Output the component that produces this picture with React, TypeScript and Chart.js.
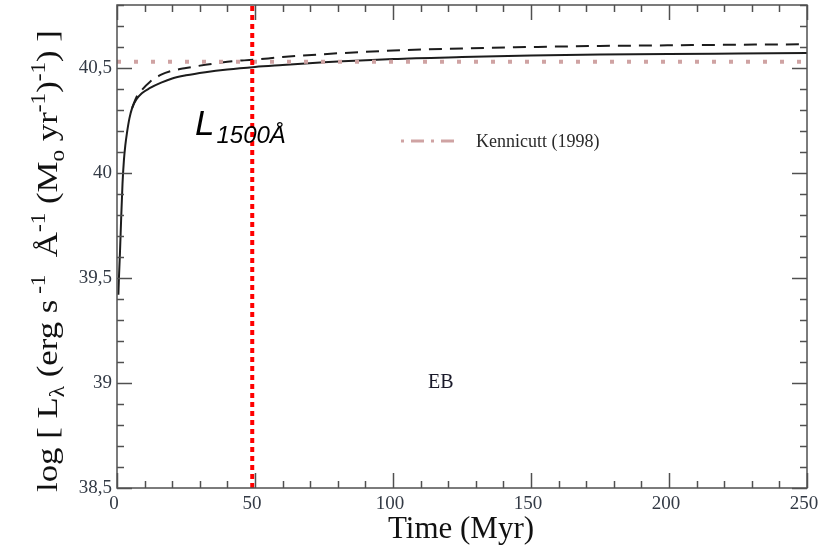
import React, { useEffect, useRef } from 'react';
import { Chart, registerables } from 'chart.js';

Chart.register(...registerables);

// ---- data ----
const solidTime = [0.5, 0.7, 1.1, 1.5, 2.0, 2.5, 3.0, 3.6, 4.5, 5.5, 7, 9, 12, 16, 20, 25, 32, 40, 50, 60, 75, 100, 125, 150, 175, 200, 225, 250];
const solidLum = [39.42, 39.5, 39.63, 39.78, 39.95, 40.06, 40.13, 40.19, 40.26, 40.31, 40.35, 40.38, 40.405, 40.43, 40.45, 40.465, 40.48, 40.493, 40.505, 40.514, 40.527, 40.543, 40.552, 40.559, 40.564, 40.567, 40.569, 40.571];

const dashedTime = [5.5, 7, 9, 12, 16, 20, 25, 32, 40, 50, 60, 75, 100, 125, 150, 175, 200, 225, 250];
const dashedLum = [40.31, 40.36, 40.395, 40.435, 40.468, 40.487, 40.5, 40.515, 40.53, 40.54, 40.552, 40.566, 40.583, 40.593, 40.6, 40.605, 40.608, 40.611, 40.613];

const kennicuttLevel = 40.53;
const markerTime = 49;

const xRange = [0, 250];
const yRange = [38.5, 40.8];
const xMajorStep = 50;
const xMinorStep = 10;
const yMajorStep = 0.5;
const yMinorStep = 0.1;

const SERIF = '"Liberation Serif", "DejaVu Serif", serif';
const SANS = '"Liberation Sans", Arial, sans-serif';

type Seg = { t: string; size: number; dy: number };

function drawRich(ctx: CanvasRenderingContext2D, segs: Seg[], x: number, y: number, family: string, center: boolean) {
  let total = 0;
  for (const s of segs) {
    ctx.font = `${s.size}px ${family}`;
    total += ctx.measureText(s.t).width;
  }
  let cx = center ? x - total / 2 : x;
  for (const s of segs) {
    ctx.font = `${s.size}px ${family}`;
    ctx.fillText(s.t, cx, y + s.dy);
    cx += ctx.measureText(s.t).width;
  }
}

const decorPlugin = {
  id: 'decor',
  afterDraw(chart: any) {
    const { ctx, chartArea: a, scales } = chart;
    const x = scales.x;
    const y = scales.y;
    ctx.save();
    // frame
    ctx.strokeStyle = '#505050';
    ctx.lineWidth = 1.5;
    ctx.setLineDash([]);
    ctx.strokeRect(a.left, a.top, a.right - a.left, a.bottom - a.top);

    const seg = (x1: number, y1: number, x2: number, y2: number) => {
      ctx.beginPath();
      ctx.moveTo(x1, y1);
      ctx.lineTo(x2, y2);
      ctx.stroke();
    };
    // x ticks (bottom & top, inward)
    const nx = Math.round((xRange[1] - xRange[0]) / xMinorStep);
    for (let i = 0; i <= nx; i++) {
      const v = xRange[0] + i * xMinorStep;
      const px = Math.round(x.getPixelForValue(v)) + 0.5;
      const len = i % Math.round(xMajorStep / xMinorStep) === 0 ? 15 : 7;
      seg(px, a.bottom, px, a.bottom - len);
      seg(px, a.top, px, a.top + len);
    }
    // y ticks (left & right, inward)
    const ny = Math.round((yRange[1] - yRange[0]) / yMinorStep);
    for (let i = 0; i <= ny; i++) {
      const v = yRange[0] + i * yMinorStep;
      const py = Math.round(y.getPixelForValue(v)) + 0.5;
      const len = i % Math.round(yMajorStep / yMinorStep) === 0 ? 15 : 7;
      seg(a.left, py, a.left + len, py);
      seg(a.right, py, a.right - len, py);
    }

    // L_1500Å label
    ctx.fillStyle = '#000';
    ctx.textBaseline = 'alphabetic';
    ctx.textAlign = 'left';
    ctx.font = `italic 35px ${SANS}`;
    ctx.fillText('L', 195, 135);
    const lw = ctx.measureText('L').width;
    ctx.font = `italic 24px ${SANS}`;
    ctx.fillText('1500Å', 195 + lw + 2, 143);

    // Kennicutt legend
    ctx.strokeStyle = '#cfa3a3';
    ctx.lineWidth = 3;
    ctx.setLineDash([3, 7, 13, 7]);
    seg(401, 141, 456, 141);
    ctx.setLineDash([]);
    ctx.fillStyle = '#2a2a2a';
    ctx.font = `18px ${SERIF}`;
    ctx.fillText('Kennicutt (1998)', 476, 147);

    // EB
    ctx.fillStyle = '#1a1a2a';
    ctx.font = `20px ${SERIF}`;
    ctx.fillText('EB', 428, 388);

    // x title
    ctx.fillStyle = '#111';
    ctx.textAlign = 'center';
    ctx.font = `31px ${SERIF}`;
    ctx.fillText('Time (Myr)', 461, 538);

    // y title (rotated, rich text)
    ctx.textAlign = 'left';
    ctx.translate(57, 261);
    ctx.rotate(-Math.PI / 2);
    ctx.scale(1.16, 1);
    const N = 30, S = 20;
    const segs: Seg[] = [
      { t: 'log [ L', size: N, dy: 0 },
      { t: 'λ', size: S, dy: 7 },
      { t: ' (erg s', size: N, dy: 0 },
      { t: ' -1', size: S, dy: -12 },
      { t: '  Å', size: N, dy: 0 },
      { t: '-1', size: S, dy: -12 },
      { t: ' (M', size: N, dy: 0 },
      { t: 'o', size: S, dy: 7 },
      { t: ' yr', size: N, dy: 0 },
      { t: '-1', size: S, dy: -12 },
      { t: ')', size: N, dy: 0 },
      { t: '-1', size: S, dy: -12 },
      { t: ') ]', size: N, dy: 0 },
    ];
    drawRich(ctx, segs, 0, 0, SERIF, true);
    ctx.restore();
  },
};

export default function App() {
  const ref = useRef<HTMLCanvasElement | null>(null);
  useEffect(() => {
    if (!ref.current) return;
    const tickColor = '#333a45';
    const chart = new Chart(ref.current, {
      type: 'scatter',
      data: {
        datasets: [
          {
            label: 'marker',
            data: [{ x: markerTime, y: yRange[0] }, { x: markerTime, y: yRange[1] }],
            showLine: true,
            borderColor: '#ff0000',
            borderWidth: 4,
            borderDash: [5, 4],
            pointRadius: 0,
          },
          {
            label: 'Kennicutt (1998)',
            data: [{ x: xRange[0], y: kennicuttLevel }, { x: xRange[1], y: kennicuttLevel }],
            showLine: true,
            borderColor: '#cfa3a3',
            borderWidth: 4,
            borderDash: [4, 13],
            pointRadius: 0,
          },
          {
            label: 'solid',
            data: solidTime.map((t, i) => ({ x: t, y: solidLum[i] })),
            showLine: true,
            borderColor: '#1c1c1c',
            borderWidth: 2,
            pointRadius: 0,
            cubicInterpolationMode: 'monotone',
          },
          {
            label: 'dashed',
            data: dashedTime.map((t, i) => ({ x: t, y: dashedLum[i] })),
            showLine: true,
            borderColor: '#1c1c1c',
            borderWidth: 2,
            borderDash: [13, 8],
            pointRadius: 0,
            cubicInterpolationMode: 'monotone',
          },
        ],
      },
      options: {
        animation: false,
        responsive: false,
        layout: { padding: { top: 5, right: 28, left: 0, bottom: 0 } },
        plugins: { legend: { display: false }, tooltip: { enabled: false } },
        scales: {
          x: {
            type: 'linear',
            min: xRange[0],
            max: xRange[1],
            grid: { display: false, drawTicks: false },
            border: { display: false },
            ticks: {
              stepSize: xMajorStep,
              includeBounds: false,
              padding: 5,
              labelOffset: -3,
              color: tickColor,
              font: { family: SERIF, size: 19 },
              maxRotation: 0,
            },
            afterFit: (s: any) => { s.height = 60; s.paddingLeft = 0; s.paddingRight = 0; },
          },
          y: {
            type: 'linear',
            min: yRange[0],
            max: yRange[1],
            grid: { display: false, drawTicks: false },
            border: { display: false },
            ticks: {
              stepSize: yMajorStep,
              includeBounds: false,
              padding: 5,
              color: tickColor,
              font: { family: SERIF, size: 19 },
              callback: (v: any) => String(Math.round(Number(v) * 10) / 10).replace('.', ','),
            },
            afterFit: (s: any) => { s.width = 117; s.paddingTop = 0; s.paddingBottom = 0; },
          },
        },
      },
      plugins: [decorPlugin],
    } as any);
    return () => chart.destroy();
  }, []);
  return (
    <div style={{ position: 'fixed', left: 0, top: 0, width: 835, height: 548, background: '#fff' }}>
      <canvas ref={ref} width={835} height={548} style={{ display: 'block' }} />
    </div>
  );
}
